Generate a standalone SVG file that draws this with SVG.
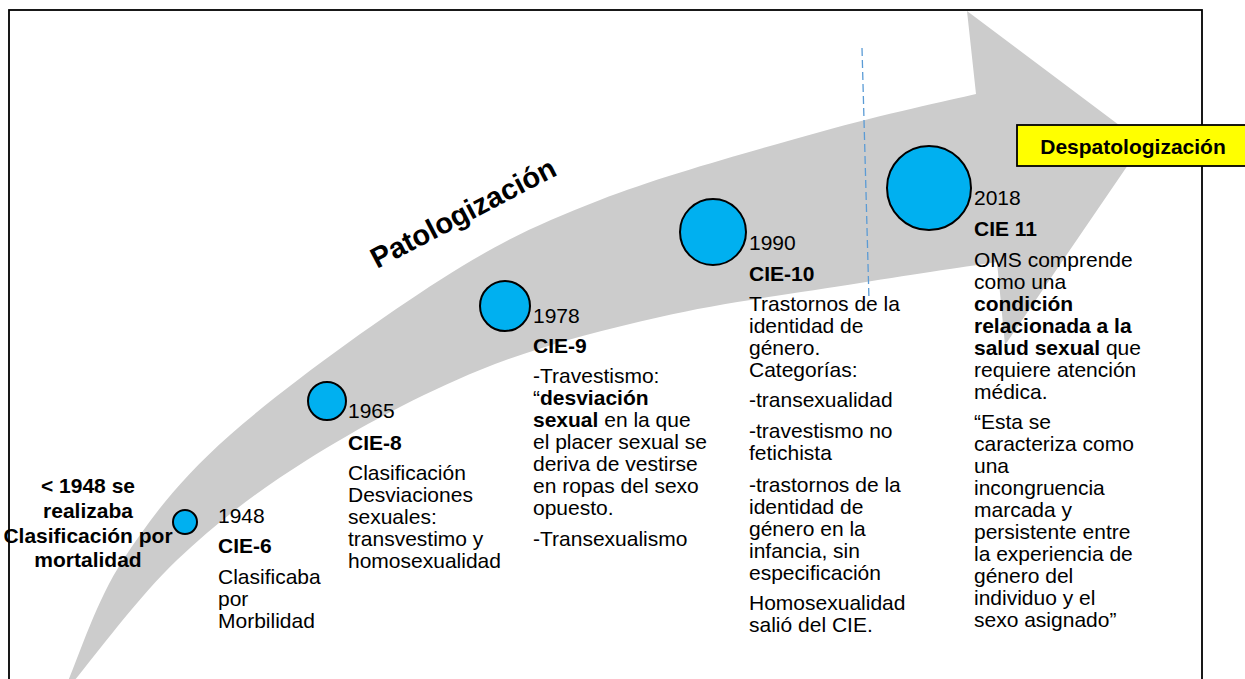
<svg xmlns="http://www.w3.org/2000/svg" width="1245" height="679" viewBox="0 0 1245 679">
<style>
text{font-family:"Liberation Sans",Arial,sans-serif;fill:#000;}
.t{font-size:21px;}
.b{font-weight:bold;}
.dot{fill:#00B0F0;stroke:#000;stroke-width:2;}
</style>
<rect x="0" y="0" width="1245" height="679" fill="#fff"/>
<g id="arrow">
<path fill="#CCCCCC" d="M68,681 C77.2,660.8 96,601 123,560 C150,519 177.2,481.7 230,435 C282.8,388.3 378.3,319.2 440,280 C501.7,240.8 536.7,224.7 600,200 C663.3,175.3 757.3,149.7 820,132 C882.7,114.3 950,100.3 976,94 L967,11 L1143,143 L1005,345 L997,262 C974.2,265.5 916.2,273.8 860,283 C803.8,292.2 723.3,302.5 660,317 C596.7,331.5 538.8,346.2 480,370 C421.2,393.8 357.5,428.3 307,460 C256.5,491.7 215.8,523.2 177,560 C138.2,596.8 91.2,660.8 74,681 L70,690 Z"/>
</g>
<rect id="frame" x="9" y="10" width="1193" height="690" fill="none" stroke="#000" stroke-width="1.8"/>
<g id="connectors">
<line x1="862" y1="48" x2="869" y2="300" stroke="#5B9BD5" stroke-width="1.3" stroke-dasharray="8,4"/>
</g>
<g id="title">
<text class="b" font-size="29" transform="translate(377,269) rotate(-27.5)">Patologización</text>
</g>
<g id="despatologizacion">
<rect x="1017" y="125" width="240" height="41" fill="#FFFF00" stroke="#000" stroke-width="1.8"/>
<text class="t b" x="1133" y="154" text-anchor="middle">Despatologización</text>
</g>
<g id="pre1948">
<text class="t b" text-anchor="middle"><tspan x="88" y="493">&lt; 1948 se</tspan><tspan x="88" y="518">realizaba</tspan><tspan x="88" y="543">Clasificación por</tspan><tspan x="88" y="567">mortalidad</tspan></text>
</g>
<g id="node-1948">
<circle class="dot" cx="185" cy="522" r="12"/>
<text class="t"><tspan x="218" y="523">1948</tspan><tspan x="218" y="553" class="b">CIE-6</tspan><tspan x="218" y="584">Clasificaba</tspan><tspan x="218" y="606">por</tspan><tspan x="218" y="628">Morbilidad</tspan></text>
</g>
<g id="node-1965">
<circle class="dot" cx="327" cy="401" r="19"/>
<text class="t"><tspan x="348" y="418">1965</tspan><tspan x="348" y="450" class="b">CIE-8</tspan><tspan x="348" y="480">Clasificación</tspan><tspan x="348" y="502">Desviaciones</tspan><tspan x="348" y="524">sexuales:</tspan><tspan x="348" y="546">transvestimo y</tspan><tspan x="348" y="568">homosexualidad</tspan></text>
</g>
<g id="node-1978">
<circle class="dot" cx="505" cy="306" r="25"/>
<text class="t"><tspan x="533" y="323">1978</tspan><tspan x="533" y="353" class="b">CIE-9</tspan><tspan x="533" y="383">-Travestismo:</tspan><tspan x="533" y="405">“<tspan class="b">desviación</tspan></tspan><tspan x="533" y="427"><tspan class="b">sexual</tspan> en la que</tspan><tspan x="533" y="449">el placer sexual se</tspan><tspan x="533" y="471">deriva de vestirse</tspan><tspan x="533" y="493">en ropas del sexo</tspan><tspan x="533" y="515">opuesto.</tspan><tspan x="533" y="546">-Transexualismo</tspan></text>
</g>
<g id="node-1990">
<circle class="dot" cx="713" cy="232" r="33"/>
<text class="t"><tspan x="749" y="250">1990</tspan><tspan x="749" y="281" class="b">CIE-10</tspan><tspan x="749" y="311">Trastornos de la</tspan><tspan x="749" y="333">identidad de</tspan><tspan x="749" y="355">género.</tspan><tspan x="749" y="377">Categorías:</tspan><tspan x="749" y="407">-transexualidad</tspan><tspan x="749" y="438">-travestismo no</tspan><tspan x="749" y="460">fetichista</tspan><tspan x="749" y="492">-trastornos de la</tspan><tspan x="749" y="514">identidad de</tspan><tspan x="749" y="536">género en la</tspan><tspan x="749" y="558">infancia, sin</tspan><tspan x="749" y="580">especificación</tspan><tspan x="749" y="610">Homosexualidad</tspan><tspan x="749" y="632">salió del CIE.</tspan></text>
</g>
<g id="node-2018">
<circle class="dot" cx="929" cy="188" r="42"/>
<text class="t"><tspan x="974" y="205">2018</tspan><tspan x="974" y="236" class="b">CIE 11</tspan><tspan x="974" y="267">OMS comprende</tspan><tspan x="974" y="289">como una</tspan><tspan x="974" y="311" class="b">condición</tspan><tspan x="974" y="333" class="b">relacionada a la</tspan><tspan x="974" y="355"><tspan class="b">salud sexual</tspan> que</tspan><tspan x="974" y="377">requiere atención</tspan><tspan x="974" y="399">médica.</tspan><tspan x="974" y="429">“Esta se</tspan><tspan x="974" y="451">caracteriza como</tspan><tspan x="974" y="473">una</tspan><tspan x="974" y="495">incongruencia</tspan><tspan x="974" y="517">marcada y</tspan><tspan x="974" y="539">persistente entre</tspan><tspan x="974" y="561">la experiencia de</tspan><tspan x="974" y="583">género del</tspan><tspan x="974" y="605">individuo y el</tspan><tspan x="974" y="627">sexo asignado”</tspan></text>
</g>
</svg>
